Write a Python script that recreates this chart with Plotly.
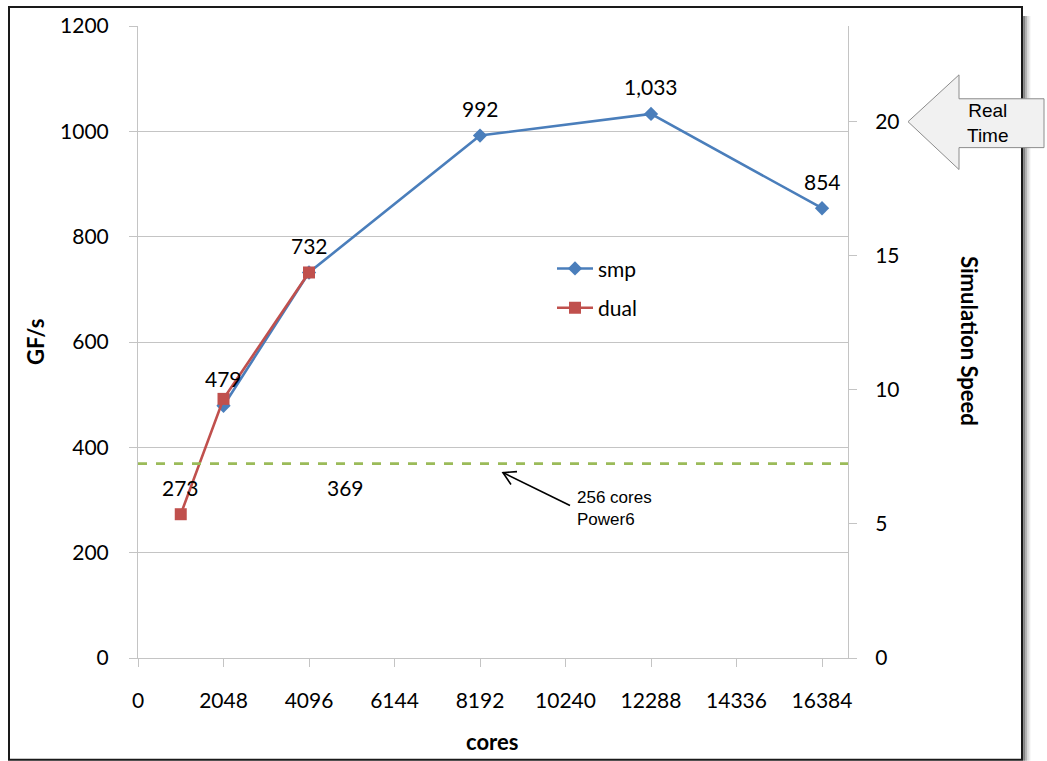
import plotly.graph_objects as go

# ---- data ----
smp_cores = [2048, 4096, 8192, 12288, 16384]
smp_gfs = [479, 732, 992, 1033, 854]
dual_cores = [1024, 2048, 4096]
dual_gfs = [273, 492, 732]
power6_gfs = 369
x_ticks = [0, 2048, 4096, 6144, 8192, 10240, 12288, 14336, 16384]
y_ticks = [0, 200, 400, 600, 800, 1000, 1200]
speed_ticks = [0, 5, 10, 15, 20]

# which points carry a value label
smp_labelled = [True, True, True, True, True]
dual_labelled = [True, False, False]

# ---- layout geometry (pixels) ----
W, H = 1047, 761
PL, PR, PT, PB = 138, 848, 24, 658


def px(x):
    return (x - PL) / (PR - PL)


def py(y):
    return (PB - y) / (PB - PT)


FONT = "Lato"
BLUE = "#4a7ebb"
RED = "#c0504d"
GREEN = "#9bbb59"
GRID = "#c4c4c4"

fig = go.Figure()

fig.add_trace(go.Scatter(
    x=smp_cores, y=smp_gfs, name="smp", mode="lines+markers",
    legendgroup="smp",
    line=dict(color=BLUE, width=2.6),
    marker=dict(symbol="diamond", size=11, color=BLUE),
))
fig.add_trace(go.Scatter(
    x=dual_cores, y=dual_gfs, name="dual", mode="lines+markers",
    legendgroup="dual",
    line=dict(color=RED, width=2.6),
    marker=dict(symbol="square", size=12, color=RED),
))
# invisible trace carrying the secondary (speed) axis
fig.add_trace(go.Scatter(x=[None], y=[None], yaxis="y2", showlegend=False,
                         hoverinfo="skip"))

annotations = []
for xs, ys, flags in ((smp_cores, smp_gfs, smp_labelled),
                      (dual_cores, dual_gfs, dual_labelled)):
    for x, y, f in zip(xs, ys, flags):
        if f:
            annotations.append(dict(
                x=x, y=y, xref="x", yref="y", text=f"{y:,}", showarrow=False,
                xanchor="center", yanchor="middle",
                yshift=27, font=dict(family=FONT, size=21, color="#000")))

# label of the Power6 reference line
annotations.append(dict(
    x=px(345), y=power6_gfs, xref="paper", yref="y", text=f"{power6_gfs}",
    xanchor="center", yanchor="middle",
    showarrow=False, yshift=-24, font=dict(family=FONT, size=21, color="#000")))

# axis titles
title_font = dict(family=FONT, size=22, color="#000", weight="bold")
annotations += [
    dict(x=px(35), y=py(341), xref="paper", yref="paper", text="<b>GF/s</b>",
         textangle=-90, showarrow=False, font=title_font,
         xanchor="center", yanchor="middle"),
    dict(x=px(492), y=py(742), xref="paper", yref="paper", text="<b>cores</b>",
         showarrow=False, font=title_font, xanchor="center", yanchor="middle"),
    dict(x=px(970), y=py(340), xref="paper", yref="paper",
         text="<b>Simulation Speed</b>", textangle=90, showarrow=False,
         font=title_font, xanchor="center", yanchor="middle"),
]

# call-out text
annotations.append(dict(
    x=px(575), y=py(508), xref="paper", yref="paper", xanchor="left",
    yanchor="middle",
    text="256 cores<br>Power6", align="left", showarrow=False,
    font=dict(family="Liberation Sans", size=17, color="#000")))
annotations.append(dict(
    x=px(988), y=py(121), xref="paper", yref="paper",
    xanchor="center", yanchor="middle",
    text="Real<br>Time", align="center", showarrow=False,
    font=dict(family="Liberation Sans", size=19, color="#000")))


def path(points):
    d = "M " + " L ".join(f"{px(a):.5f},{py(b):.5f}" for a, b in points)
    return d


shapes = []
# drop shadow and frame of the chart area
for i, op in enumerate([0.45, 0.3, 0.15, 0.07]):
    shapes.append(dict(type="rect", xref="paper", yref="paper",
                       x0=px(1023 + i * 1.8), x1=px(1025 + i * 1.8),
                       y0=py(761), y1=py(14),
                       line=dict(width=0), fillcolor=f"rgba(0,0,0,{op})",
                       layer="below"))
shapes.append(dict(type="rect", xref="paper", yref="paper",
                   x0=px(9), x1=px(1022), y0=py(760), y1=py(5),
                   line=dict(color="#1a1a1a", width=2), layer="below"))

# Power6 reference level
shapes.append(dict(type="line", xref="x domain", yref="y", x0=0, x1=1,
                   y0=power6_gfs, y1=power6_gfs,
                   line=dict(color=GREEN, width=2.6, dash="dash")))

# call-out arrow
shapes.append(dict(type="path", xref="paper", yref="paper",
                   path=path([(570, 505), (503, 472)]),
                   line=dict(color="#000", width=1.6)))
shapes.append(dict(type="path", xref="paper", yref="paper",
                   path=path([(511, 484), (503, 472), (517, 471)]),
                   line=dict(color="#000", width=1.6)))

# "Real Time" block arrow
shapes.append(dict(type="path", xref="paper", yref="paper",
                   path=path([(908, 120), (959, 73), (959, 97), (1044, 97),
                              (1044, 146), (959, 146), (959, 168)]) + " Z",
                   fillcolor="#f1f1f1", line=dict(color="#8c8c8c", width=1)))

tick_font = dict(family=FONT, size=21, color="#000")

fig.update_layout(
    width=W, height=H,
    margin=dict(l=PL, r=W - PR, t=PT, b=H - PB, pad=0),
    paper_bgcolor="white", plot_bgcolor="white",
    showlegend=True,
    legend=dict(x=px(552), y=py(247), xanchor="left", yanchor="top",
                bgcolor="rgba(0,0,0,0)", font=dict(family=FONT, size=21,
                                                   color="#000"),
                tracegroupgap=9, itemwidth=36),
    xaxis=dict(range=[0, 17006], tickvals=x_ticks,
               ticktext=[str(t) for t in x_ticks], ticks="outside",
               ticklen=8, tickcolor=GRID, showgrid=False, zeroline=False,
               showline=True, linecolor=GRID, linewidth=1,
               tickfont=tick_font, ticklabelstandoff=16),
    yaxis=dict(range=[0, 1200], tickvals=y_ticks, ticks="outside",
               ticklen=8, tickcolor=GRID, showgrid=True, gridcolor=GRID,
               gridwidth=1, zeroline=False, showline=True, linecolor=GRID,
               tickfont=tick_font, ticklabelstandoff=16),
    yaxis2=dict(range=[0, 1200 / 50.9], tickvals=speed_ticks,
                overlaying="y", side="right", ticks="outside", ticklen=8,
                tickcolor=GRID, showgrid=False, zeroline=False,
                showline=True, linecolor=GRID, tickfont=tick_font,
                ticklabelstandoff=14),
    annotations=annotations,
    shapes=shapes,
)

fig.write_html("out.html")
